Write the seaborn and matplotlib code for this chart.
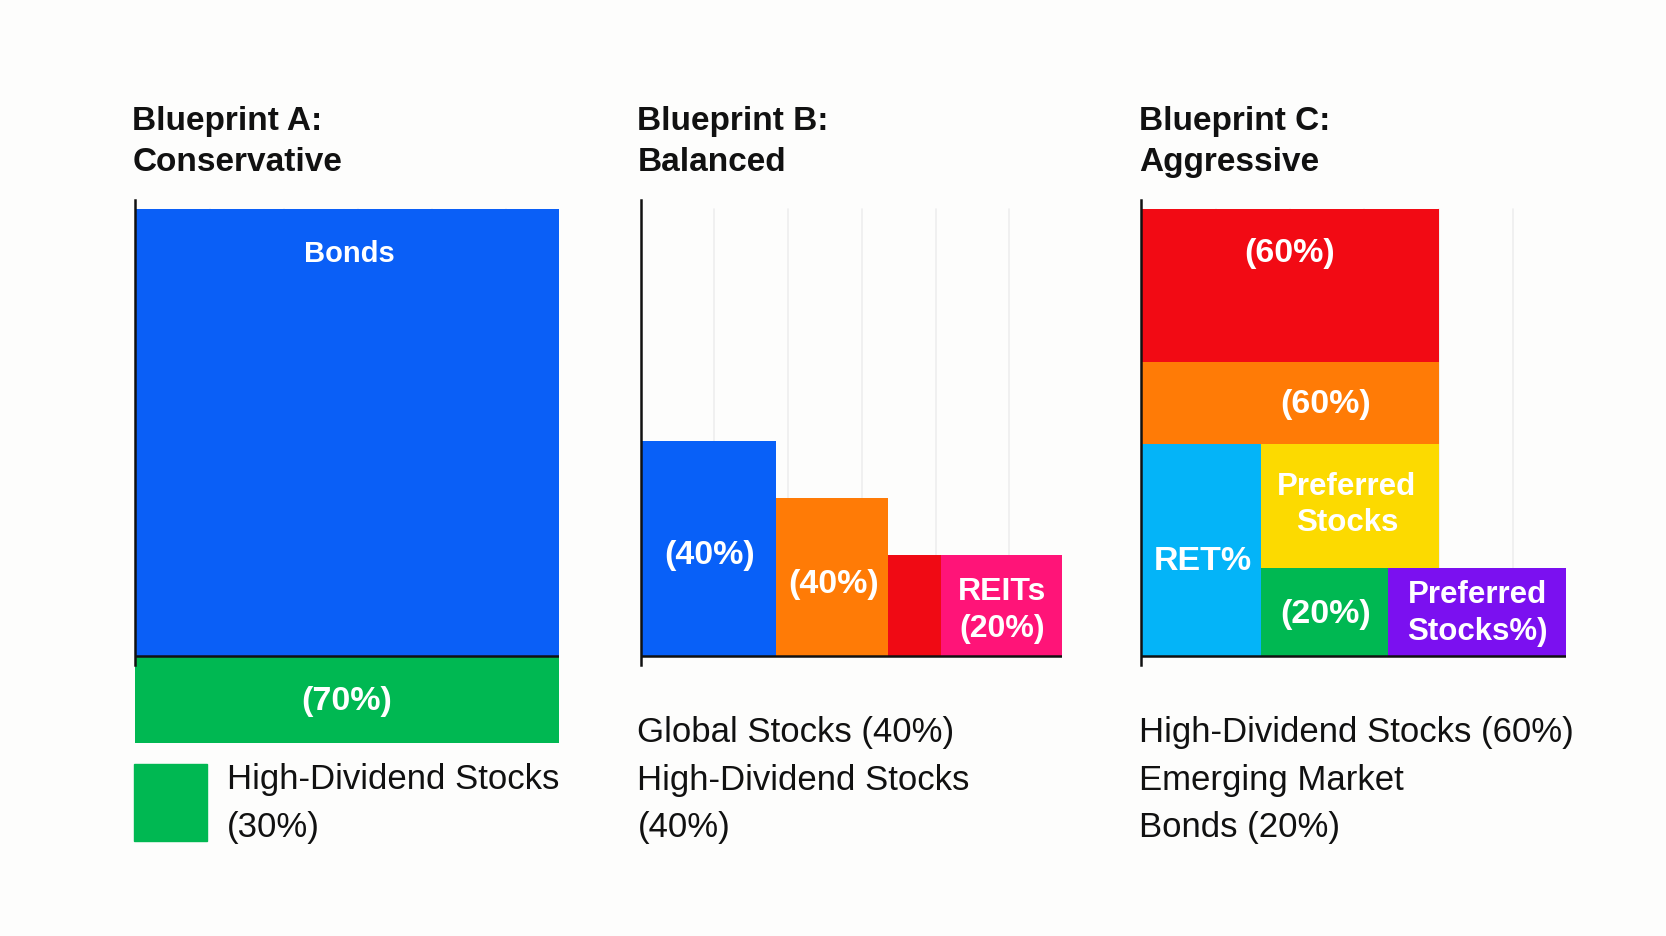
# three "blueprint" allocation panels drawn as edge-aligned bars

import matplotlib.pyplot as plt
import matplotlib.patches as mpatches
import numpy as np
import pandas as pd
import seaborn as sns

sns.set_theme(style="white")
plt.rcParams['font.family'] = ['Liberation Sans', 'DejaVu Sans']

# panel titles and notes under each panel
titles = ["Blueprint A:\nConservative", "Blueprint B:\nBalanced", "Blueprint C:\nAggressive"]
notes = ["High-Dividend Stocks\n(30%)",
         "Global Stocks (40%)\nHigh-Dividend Stocks\n(40%)",
         "High-Dividend Stocks (60%)\nEmerging Market\nBonds (20%)"]

# segments per panel: left edge, width, bottom, height (chart units, 0-100)
a_left = [0, 0]
a_width = [100, 100]
a_bottom = [0, 0]
a_height = [100, -19.5]
a_colors = ["#0a5ff7", "#00b852"]
a_labels = ["Bonds", "(70%)"]

b_left = [0, 32.1, 58.7, 71.4]
b_width = [32.1, 26.6, 12.7, 28.6]
b_bottom = [0, 0, 0, 0]
b_height = [48, 35.3, 22.4, 22.4]
b_colors = ["#0860f8", "#ff7b06", "#f00a14", "#ff1478"]
b_labels = ["(40%)", "(40%)", "", "REITs\n(20%)"]

c_left = [0, 0, 0, 28.1, 28.1, 58]
c_width = [70, 70, 28.1, 41.9, 29.9, 42]
c_bottom = [65.6, 47.4, 0, 19.5, 0, 0]
c_height = [34.4, 18.2, 47.4, 27.9, 19.5, 19.5]
c_colors = ["#f20a14", "#ff7b06", "#04b4f8", "#fcda00", "#00b852", "#7b10f0"]
c_labels = ["(60%)", "(60%)", "RET%", "Preferred\nStocks", "(20%)", "Preferred\nStocks%)"]

panels = [
    pd.DataFrame({'left': a_left, 'width': a_width, 'bottom': a_bottom, 'height': a_height,
                  'color': a_colors, 'label': a_labels}),
    pd.DataFrame({'left': b_left, 'width': b_width, 'bottom': b_bottom, 'height': b_height,
                  'color': b_colors, 'label': b_labels}),
    pd.DataFrame({'left': c_left, 'width': c_width, 'bottom': c_bottom, 'height': c_height,
                  'color': c_colors, 'label': c_labels}),
]

# label anchor points inside the segments (chart units)
label_pos = [
    [(50.5, 90.1), (50, -10.1)],
    [(16.3, 22.6), (45.7, 16.1), (0, 0), (85.7, 10.3)],
    [(34.9, 90.1), (43.3, 56.3), (14.4, 21.2), (48.4, 33.9), (43.3, 9.4), (79.2, 9.6)],
]

fig = plt.figure(figsize=(16.66, 9.37), dpi=100)
fig.patch.set_facecolor("#fdfdfc")

W, H = 1550.0, 872.0
ax_left = [126, 596, 1062]
ax_w = [394, 392, 395]
title_x = [123, 593, 1060]

for i, df in enumerate(panels):
    ax = fig.add_axes([ax_left[i] / W, 1 - 715 / H, ax_w[i] / W, (715 - 186.7) / H])
    ax.set_facecolor("none")
    ax.set_xlim(0, 100)
    ax.set_ylim(-25, 102)

    # faint vertical grid behind the bars
    for gx in np.arange(17.5, 100, 17.5):
        ax.plot([gx, gx], [0, 100], color="#eeeeee", lw=1.2, zorder=0)

    ax.bar(df['left'], df['height'], width=df['width'], bottom=df['bottom'],
           align='edge', color=df['color'], linewidth=0, zorder=2)

    ax.axhline(0, color="#111111", lw=1.8, zorder=3)
    for s in ['top', 'right', 'bottom']:
        ax.spines[s].set_visible(False)
    ax.spines['left'].set_bounds(-2.2, 102)
    ax.spines['left'].set_color("#111111")
    ax.spines['left'].set_linewidth(1.8)
    ax.spines['left'].set_zorder(4)
    ax.set_xticks([])
    ax.set_yticks([])

    for (lx, ly), lab in zip(label_pos[i], df['label']):
        if not lab:
            continue
        if lab == "Bonds":
            size = 21
        elif lab.startswith("REITs"):
            size = 23
        elif "\n" in lab:
            size = 22.5
        else:
            size = 24.5
        ax.text(lx, ly, lab, color="white", fontsize=size, fontweight='bold',
                ha='center', va='center', linespacing=1.3, zorder=5)

    fig.text(title_x[i] / W, 1 - 132 / H, titles[i], fontsize=24, fontweight='bold',
             ha='left', va='center', linespacing=1.4, color="#111111")

# legend square for panel A
fig.add_artist(mpatches.Rectangle((125 / W, 1 - 784 / H), 68 / W, 72 / H,
                                  transform=fig.transFigure, color="#00b852"))
fig.text(211 / W, 1 - 748 / H, notes[0], fontsize=25, ha='left', va='center',
         linespacing=1.56, color="#111111")
fig.text(593 / W, 1 - 726 / H, notes[1], fontsize=25, ha='left', va='center',
         linespacing=1.56, color="#111111")
fig.text(1060 / W, 1 - 726 / H, notes[2], fontsize=25, ha='left', va='center',
         linespacing=1.56, color="#111111")

fig.savefig("out.png", dpi=100, facecolor=fig.get_facecolor())
